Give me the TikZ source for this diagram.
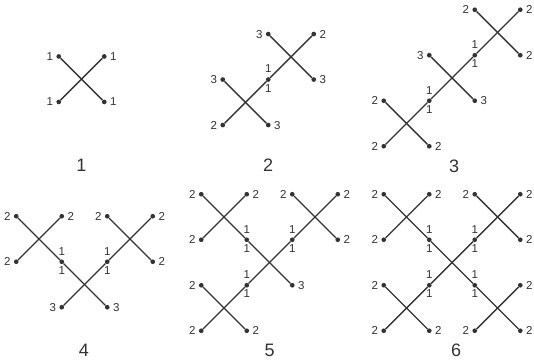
\documentclass[tikz,border=0pt]{standalone}
\usepackage{fontspec}
\setmainfont{Liberation Sans}
\def\hs{22.75}
\begin{document}
\begin{tikzpicture}[x=1pt,y=-1pt,
 dot/.style={circle,fill=black!80,inner sep=0pt,minimum size=4.7pt},
 lab/.style={font=\fontsize{11.5}{12}\selectfont,inner sep=0.8pt,text=black!80},
 lft/.style={label={[lab,label distance=2.2pt]left:#1}},
 rgt/.style={label={[lab,label distance=2.2pt]right:#1}},
 mid/.style={label={[lab,label distance=3pt]above:1},label={[lab,label distance=1pt]below:1}},
 bond/.style={line width=1.4pt,draw=black!80},
 num/.style={font=\fontsize{18}{20}\selectfont,text=black!80}]
\useasboundingbox (0,0) rectangle (534,363);

% ---------- 1 ----------
\begin{scope}[shift={(81.5,79.2)}]
\node[dot,lft=1] (a1) at (-\hs,-\hs) {};
\node[dot,rgt=1] (a2) at (\hs,-\hs) {};
\node[dot,lft=1] (a3) at (-\hs,\hs) {};
\node[dot,rgt=1] (a4) at (\hs,\hs) {};
\end{scope}
\draw[bond] (a1) -- (a4);
\draw[bond] (a3) -- (a2);
\node[num] (n1) at (81.5,165) {1};

% ---------- 2 ----------
\begin{scope}[shift={(245.5,102.3)}]
\node[dot,lft=3] (b1) at (-\hs,-\hs) {};
\node[dot,lft=2] (b2) at (-\hs,\hs) {};
\node[dot,rgt=3] (b3) at (\hs,\hs) {};
\node[dot,mid] (bm) at (\hs,-\hs) {};
\end{scope}
\begin{scope}[shift={(291,56.8)}]
\node[dot,lft=3] (b4) at (-\hs,-\hs) {};
\node[dot,rgt=2] (b5) at (\hs,-\hs) {};
\node[dot,rgt=3] (b6) at (\hs,\hs) {};
\end{scope}
\draw[bond] (b1) -- (b3);
\draw[bond] (b2) -- (bm) -- (b5);
\draw[bond] (b4) -- (b6);
\node[num] (n2) at (268,165) {2};

% ---------- 3 ----------
\begin{scope}[shift={(406.5,123.5)}]
\node[dot,lft=2] (c1) at (-\hs,-\hs) {};
\node[dot,lft=2] (c2) at (-\hs,\hs) {};
\node[dot,rgt=2] (c3) at (\hs,\hs) {};
\node[dot,mid] (cm1) at (\hs,-\hs) {};
\end{scope}
\begin{scope}[shift={(452,78)}]
\node[dot,lft=3] (c4) at (-\hs,-\hs) {};
\node[dot,rgt=3] (c5) at (\hs,\hs) {};
\node[dot,mid] (cm2) at (\hs,-\hs) {};
\end{scope}
\begin{scope}[shift={(497.5,32.5)}]
\node[dot,lft=2] (c6) at (-\hs,-\hs) {};
\node[dot,rgt=2] (c7) at (\hs,-\hs) {};
\node[dot,rgt=2] (c8) at (\hs,\hs) {};
\end{scope}
\draw[bond] (c1) -- (c3);
\draw[bond] (c2) -- (cm1) -- (cm2) -- (c7);
\draw[bond] (c4) -- (c5);
\draw[bond] (c6) -- (c8);
\node[num] (n3) at (454,166) {3};

% ---------- 4 ----------
\begin{scope}[shift={(39,239)}]
\node[dot,lft=2] (d1) at (-\hs,-\hs) {};
\node[dot,rgt=2] (d2) at (\hs,-\hs) {};
\node[dot,lft=2] (d3) at (-\hs,\hs) {};
\node[dot,mid] (dm1) at (\hs,\hs) {};
\end{scope}
\begin{scope}[shift={(130,239)}]
\node[dot,lft=2] (d4) at (-\hs,-\hs) {};
\node[dot,rgt=2] (d5) at (\hs,-\hs) {};
\node[dot,rgt=2] (d6) at (\hs,\hs) {};
\node[dot,mid] (dm2) at (-\hs,\hs) {};
\end{scope}
\begin{scope}[shift={(84.5,284.5)}]
\node[dot,lft=3] (d7) at (-\hs,\hs) {};
\node[dot,rgt=3] (d8) at (\hs,\hs) {};
\end{scope}
\draw[bond] (d1) -- (dm1) -- (d8);
\draw[bond] (d3) -- (d2);
\draw[bond] (d7) -- (dm2) -- (d5);
\draw[bond] (d4) -- (d6);
\node[num] (n4) at (84,350) {4};

% ---------- 5 ----------
\begin{scope}[shift={(224,217)}]
\node[dot,lft=2] (e1) at (-\hs,-\hs) {};
\node[dot,rgt=2] (e2) at (\hs,-\hs) {};
\node[dot,lft=2] (e3) at (-\hs,\hs) {};
\node[dot,mid] (em1) at (\hs,\hs) {};
\end{scope}
\begin{scope}[shift={(315,217)}]
\node[dot,lft=2] (e4) at (-\hs,-\hs) {};
\node[dot,rgt=2] (e5) at (\hs,-\hs) {};
\node[dot,rgt=2] (e6) at (\hs,\hs) {};
\node[dot,mid] (em2) at (-\hs,\hs) {};
\end{scope}
\begin{scope}[shift={(224,308)}]
\node[dot,lft=2] (e7) at (-\hs,-\hs) {};
\node[dot,lft=2] (e8) at (-\hs,\hs) {};
\node[dot,rgt=2] (e9) at (\hs,\hs) {};
\node[dot,mid] (em3) at (\hs,-\hs) {};
\end{scope}
\begin{scope}[shift={(269.5,262.5)}]
\node[dot,rgt=3] (e10) at (\hs,\hs) {};
\end{scope}
\draw[bond] (e1) -- (em1) -- (e10);
\draw[bond] (e3) -- (e2);
\draw[bond] (e8) -- (em3) -- (em2) -- (e5);
\draw[bond] (e4) -- (e6);
\draw[bond] (e7) -- (e9);
\node[num] (n5) at (269.5,350) {5};

% ---------- 6 ----------
\begin{scope}[shift={(406.5,217)}]
\node[dot,lft=2] (f1) at (-\hs,-\hs) {};
\node[dot,rgt=2] (f2) at (\hs,-\hs) {};
\node[dot,lft=2] (f3) at (-\hs,\hs) {};
\node[dot,mid] (fm1) at (\hs,\hs) {};
\end{scope}
\begin{scope}[shift={(497.5,217)}]
\node[dot,lft=2] (f4) at (-\hs,-\hs) {};
\node[dot,rgt=2] (f5) at (\hs,-\hs) {};
\node[dot,rgt=2] (f6) at (\hs,\hs) {};
\node[dot,mid] (fm2) at (-\hs,\hs) {};
\end{scope}
\begin{scope}[shift={(406.5,308)}]
\node[dot,lft=2] (f7) at (-\hs,-\hs) {};
\node[dot,lft=2] (f8) at (-\hs,\hs) {};
\node[dot,rgt=2] (f9) at (\hs,\hs) {};
\node[dot,mid] (fm3) at (\hs,-\hs) {};
\end{scope}
\begin{scope}[shift={(497.5,308)}]
\node[dot,rgt=2] (f10) at (\hs,-\hs) {};
\node[dot,lft=2] (f11) at (-\hs,\hs) {};
\node[dot,rgt=2] (f12) at (\hs,\hs) {};
\node[dot,mid] (fm4) at (-\hs,-\hs) {};
\end{scope}
\draw[bond] (f1) -- (fm1) -- (fm4) -- (f12);
\draw[bond] (f8) -- (fm3) -- (fm2) -- (f5);
\draw[bond] (f3) -- (f2);
\draw[bond] (f4) -- (f6);
\draw[bond] (f7) -- (f9);
\draw[bond] (f11) -- (f10);
\node[num] (n6) at (456,350) {6};
\end{tikzpicture}
\end{document}
